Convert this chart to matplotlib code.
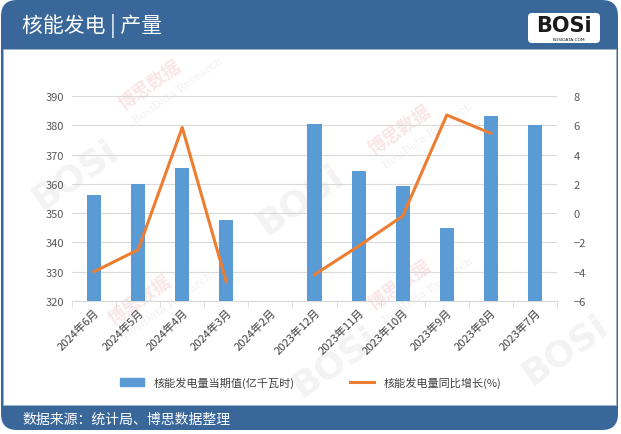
import matplotlib
matplotlib.use('Agg')
import matplotlib.pyplot as plt
import matplotlib.patches as patches
import numpy as np

plt.rcParams['font.family'] = ['Noto Sans CJK SC', 'DejaVu Sans']

# data
months = ['2024年6月', '2024年5月', '2024年4月', '2024年3月', '2024年2月',
          '2023年12月', '2023年11月', '2023年10月', '2023年9月', '2023年8月', '2023年7月']
output = [356.3, 360.0, 365.4, 347.6, np.nan,
          380.4, 364.4, 359.2, 344.9, 383.1, 380.1]
growth = [-4.0, -2.5, 5.85, -4.7, np.nan,
          -4.2, -2.25, -0.2, 6.7, 5.45, np.nan]

bar_label = '核能发电量当期值(亿千瓦时)'
line_label = '核能发电量同比增长(%)'
title = '核能发电 | 产量'
source = '数据来源：统计局、博思数据整理'

W, H = 621, 435
fig = plt.figure(figsize=(W / 100, H / 100), dpi=100)
fig.patch.set_facecolor('white')

# background frame drawn in pixel coordinates
bg = fig.add_axes([0, 0, 1, 1])
bg.set_xlim(0, W)
bg.set_ylim(H, 0)
bg.axis('off')
bg.set_zorder(-1)
frame_blue = '#3A679A'
bg.add_patch(patches.FancyBboxPatch((1, 1), W - 4, H - 5,
                                    boxstyle='round,pad=0,rounding_size=16',
                                    facecolor=frame_blue, edgecolor='none'))
bg.add_patch(patches.Rectangle((3, 50), W - 8, 356, facecolor='white',
                               edgecolor='#9FB3C8', linewidth=0.6))
bg.text(22, 26, title, color='white', fontsize=15, va='center', ha='left')
bg.text(22, 420, source, color='white', fontsize=10, va='center', ha='left')

# logo
bg.add_patch(patches.FancyBboxPatch((528, 14), 72, 30,
                                    boxstyle='round,pad=0,rounding_size=4',
                                    facecolor='white', edgecolor='none'))
bg.text(564, 26, 'BOSi', fontsize=15, fontweight='heavy', color='#1A1A1A',
        ha='center', va='center', family='DejaVu Sans')
bg.text(569, 40, 'BOSIDATA.COM', fontsize=3.2, color='#1A1A1A',
        ha='center', va='center', family='DejaVu Sans')

# faint watermarks
wm_logo = [(75, 175), (300, 200), (335, 362), (565, 350)]
for x, y in wm_logo:
    bg.text(x, y, 'BOSi', fontsize=26, fontweight='heavy', color='#F3F3F3',
            rotation=35, ha='center', va='center', family='DejaVu Sans')
wm_cn = [(150, 85), (400, 130), (140, 300), (400, 285)]
for x, y in wm_cn:
    bg.text(x, y, '博思数据', fontsize=13, fontweight='bold', color='#FAE6E6',
            rotation=35, ha='center', va='center')
    bg.text(x + 28, y + 6, 'BosiData Research', fontsize=8, color='#F2F2F2',
            rotation=35, ha='center', va='center', family='DejaVu Serif')

# main chart
ax = fig.add_axes([72 / W, 1 - 302 / H, (557 - 72) / W, (302 - 97) / H])
ax.set_facecolor('none')
x = np.arange(len(months))
bar_color = '#5B9BD5'
line_color = '#ED7D31'
ax.bar(x, output, width=0.32, color=bar_color, zorder=3)
ax.set_ylim(320, 390)
ax.set_yticks(np.arange(320, 391, 10))
ax.set_xlim(-0.5, len(months) - 0.5)
ax.grid(axis='y', color='#D9D9D9', linewidth=0.8, zorder=0)
for s in ['top', 'right', 'left']:
    ax.spines[s].set_visible(False)
ax.spines['bottom'].set_color('#D9D9D9')
ax.tick_params(axis='y', length=0, labelsize=8, colors='#595959', pad=6)
ax.set_xticks(x)
ax.set_xticklabels(months, rotation=45, ha='right', rotation_mode='anchor',
                   fontsize=8, color='#404040')
ax.tick_params(axis='x', length=0, pad=4)
ax.set_xticks(np.arange(-0.5, len(months), 1), minor=True)
ax.tick_params(axis='x', which='minor', length=4, color='#D9D9D9')

ax2 = ax.twinx()
ax2.plot(x, growth, color=line_color, linewidth=2.2, zorder=4)
ax2.set_ylim(-6, 8)
ax2.set_yticks(np.arange(-6, 9, 2))
for s in ['top', 'right', 'left', 'bottom']:
    ax2.spines[s].set_visible(False)
ax2.tick_params(axis='y', length=0, labelsize=8, colors='#595959', pad=12)

handles = [patches.Patch(color=bar_color),
           plt.Line2D([], [], color=line_color, linewidth=2.2)]
fig.legend(handles, [bar_label, line_label], loc='center', ncol=2,
           bbox_to_anchor=(0.5, 1 - 383 / H), frameon=False, fontsize=8,
           handlelength=2.2, columnspacing=5, labelcolor='#404040')

fig.savefig('out.png', dpi=100, facecolor='white')
